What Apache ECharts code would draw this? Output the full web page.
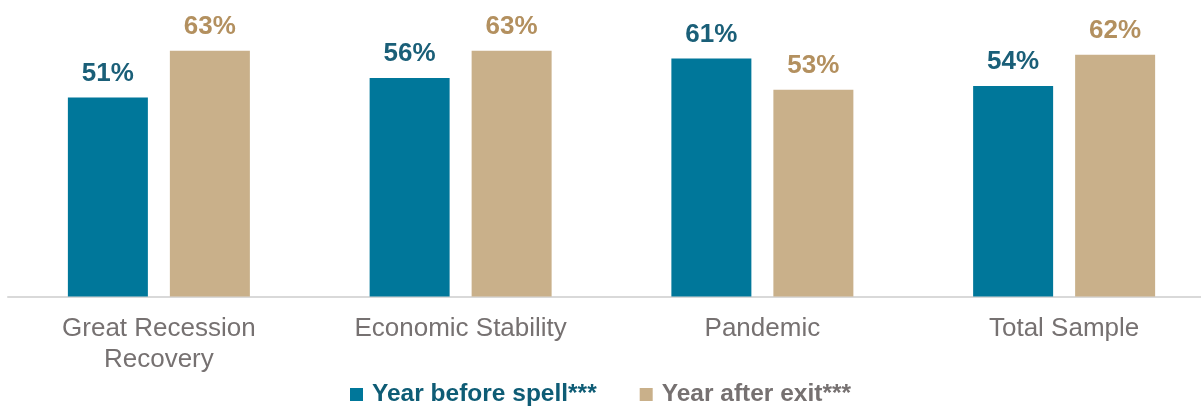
<!DOCTYPE html>
<html>
<head>
<meta charset="utf-8">
<script src="https://cdn.jsdelivr.net/npm/echarts@6/dist/echarts.min.js"></script>
<style>
  html, body { margin: 0; padding: 0; background: #ffffff; }
  #chart { width: 1201px; height: 408px; }
</style>
</head>
<body>
<div id="chart"></div>
<script>
// Share of people (%) by economic period
const categories = ['Great Recession\nRecovery', 'Economic Stability', 'Pandemic', 'Total Sample'];
const yearBeforeSpell = [51, 56, 61, 54];
const yearAfterExit = [63, 63, 53, 62];
const seriesNames = ['Year before spell***', 'Year after exit***'];

const FONT = 'Arial, "Liberation Sans", Helvetica, sans-serif';
const BLUE = '#00779A';
const TAN = '#C9B08A';

const chart = echarts.init(document.getElementById('chart'), null, { renderer: 'canvas' });

function barLabel(color) {
  return {
    show: true,
    position: 'top',
    distance: 11,
    formatter: '{c}%',
    color: color,
    fontFamily: FONT,
    fontSize: 26,
    fontWeight: 'bold'
  };
}

chart.setOption({
  animation: false,
  backgroundColor: '#ffffff',
  textStyle: { fontFamily: FONT },
  grid: {
    left: 8,
    right: -14,
    top: 23.5,
    bottom: 111.5,
    containLabel: false,
    outerBoundsMode: 'none'
  },
  legend: {
    top: 377,
    left: 'center',
    icon: 'rect',
    itemWidth: 13,
    itemHeight: 13,
    itemGap: 43,
    textStyle: { fontFamily: FONT, fontSize: 24.5, fontWeight: 'bold', padding: [0, 0, 0, 4] },
    data: [
      { name: seriesNames[0], textStyle: { color: '#0E5C75' } },
      { name: seriesNames[1], textStyle: { color: '#767171' } }
    ]
  },
  xAxis: {
    type: 'category',
    data: categories,
    axisLine: { show: true, lineStyle: { color: '#D9D9D9', width: 2 } },
    axisTick: { show: false },
    axisLabel: {
      color: '#767171',
      fontFamily: FONT,
      fontSize: 26,
      lineHeight: 31,
      margin: 17,
      interval: 0
    }
  },
  yAxis: {
    type: 'value',
    min: 0,
    max: 70,
    show: false,
    splitLine: { show: false }
  },
  series: [
    {
      name: seriesNames[0],
      type: 'bar',
      data: yearBeforeSpell,
      barWidth: 80,
      barGap: '27.5%',
      itemStyle: { color: BLUE },
      label: barLabel('#1A5F78')
    },
    {
      name: seriesNames[1],
      type: 'bar',
      data: yearAfterExit,
      barWidth: 80,
      barGap: '27.5%',
      itemStyle: { color: TAN },
      label: barLabel('#B3905F')
    }
  ]
});
</script>
</body>
</html>
